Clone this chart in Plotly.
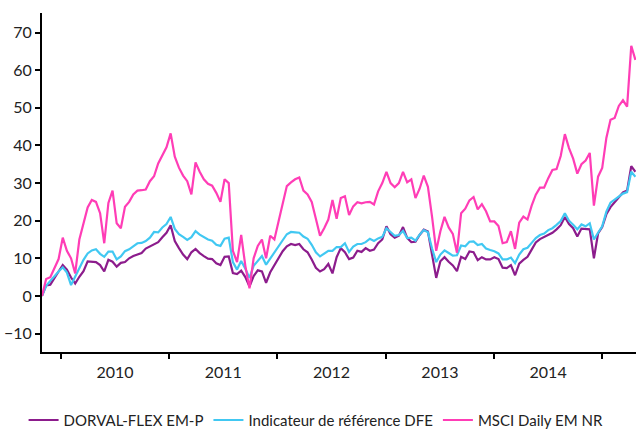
import pandas as pd
import plotly.graph_objects as go

# Bi-weekly observation dates (performance in %, base 0 at start)
dates = pd.date_range("2009-10-29", periods=144, freq="14D")

dorval = [
    0, 2.8, 3, 4.9, 6.5, 8.2, 7, 4.9, 3.3, 5.1,
    6.6, 9.2, 9, 9, 8.2, 6.5, 9.6, 9.1, 7.8, 8.8,
    9, 10, 10.6, 11, 11.4, 12.6, 13.2, 13.6, 14.3, 15.6,
    16.8, 18.8, 14.6, 12.7, 11, 9.8, 11.6, 12.5, 11.4, 10.6,
    9.9, 9.8, 8.7, 8.2, 10.4, 10.5, 6.1, 5.8, 6.7, 5,
    2.5, 5.3, 6.8, 6.5, 3.5, 6.3, 8.2, 9.9, 11.9, 13.2,
    13.8, 13.5, 13.8, 12.4, 11.6, 9.7, 7.5, 6.5, 7.1, 8.5,
    6, 10.3, 12.7, 11.6, 9.8, 10.2, 12, 11.7, 12.7, 12,
    12.3, 14, 15, 18.5, 16.4, 15.5, 16, 18.3, 15.4, 14.3,
    14.4, 16.2, 17.6, 17.1, 11.3, 4.8, 9.2, 10.3, 9.1, 8.1,
    6.6, 10.4, 9.8, 11.8, 11.6, 9.5, 10.3, 9.7, 9.7, 10.3,
    9.8, 7.5, 7.4, 8.2, 5.5, 8.6, 9.6, 10.4, 12.3, 14.2,
    15.1, 15.7, 16.3, 16.8, 17.7, 18.8, 21, 19.1, 18, 15.8,
    17.9, 17.7, 17.7, 10, 16.6, 18.3, 21.7, 23.6, 24.9, 25.9,
    27.5, 28, 34.5, 33,
]

indicateur = [
    0, 2.7, 4, 5.4, 6.5, 7.6, 6.2, 2.9, 5.2, 7.4,
    9.6, 11.3, 12.1, 12.4, 11.2, 10.4, 11.8, 11.8, 9.7, 10.5,
    11.9, 12.4, 13.3, 14, 14.1, 14.6, 15.5, 17, 16.9, 18.2,
    19.1, 21, 17.8, 16.4, 15.7, 14.9, 15.6, 17.2, 16.3, 15.6,
    15, 14.7, 13.6, 13.3, 15.2, 15.5, 9, 7, 9.3, 7.2,
    4.8, 8, 9.4, 10.6, 8.3, 10, 11.4, 13.1, 14.8, 16.4,
    17, 16.9, 16.8, 15.8, 15.2, 13.6, 11.6, 10.5, 11.3, 12,
    12, 13, 13, 14, 11.7, 13.1, 13.8, 13.8, 14.3, 15.2,
    14.6, 15.3, 15.7, 18, 17, 16, 16.2, 17.3, 15.4, 15.5,
    14.7, 16.3, 17.5, 16.9, 12.6, 9, 11, 12.1, 11.4, 10.7,
    10.8, 13.4, 13.2, 14.4, 14.5, 13.5, 13.8, 12.6, 12.2, 11.9,
    11.3, 9.7, 9.7, 10.2, 8.7, 11, 12.4, 12.8, 14.1, 15.4,
    16.2, 16.6, 17.5, 18, 18.9, 19.9, 22, 20, 18.9, 17.7,
    19, 18.5, 19.3, 15, 16.8, 18.5, 22.4, 24.8, 25.6, 26.3,
    27.2, 27.6, 33, 31.7,
]

msci = [
    0, 4.5, 5, 7.2, 9.8, 15.5, 12, 10, 6, 15,
    19.3, 23.5, 25.5, 25, 22, 14, 24.7, 28, 19.3, 18,
    23.7, 25, 27, 28, 28.1, 28.3, 30.5, 31.8, 35.2, 37.3,
    39.5, 43.2, 37, 34.1, 32, 30.5, 27, 35.5, 33, 31,
    29.8, 29.3, 27.4, 25, 31, 30, 12, 9, 16.2, 8,
    2, 10, 13.3, 15, 10, 16, 15, 19.8, 24.2, 29.2,
    30.2, 31, 31.5, 28, 27, 25, 20.5, 16, 18, 20.3,
    25.5, 20.5, 26, 26.5, 21.5, 23.8, 24.9, 24.6, 24.9, 25,
    24.3, 27.8, 30, 33, 30, 28.9, 30, 33, 30.2, 31,
    26, 28.5, 32, 29, 21, 12, 17.2, 21, 18.2, 16.5,
    11.5, 22, 23.2, 25.4, 26.3, 23, 24.4, 22.5, 19.8, 19.8,
    18.6, 14, 14.3, 17.2, 12.5, 19.5, 21.1, 20.3, 24, 26.9,
    28.8, 28.8, 31.3, 33.5, 33.7, 37.2, 43, 39.3, 36.5, 32.5,
    35, 36, 38, 24, 31.7, 34, 42, 46.8, 47.3, 50.5,
    52, 50.3, 66.5, 62.7,
]

series_names = ["DORVAL-FLEX EM-P", "Indicateur de référence DFE", "MSCI Daily EM NR"]
series_values = [dorval, indicateur, msci]
series_colors = ["#8C1C8C", "#41C8F2", "#FF3DB6"]

fig = go.Figure()
for name, vals, col in zip(series_names, series_values, series_colors):
    fig.add_trace(go.Scatter(
        x=dates, y=vals, name=name, mode="lines",
        line=dict(color=col, width=2.2),
    ))

font_family = "Lato, 'DejaVu Sans', sans-serif"
fig.update_layout(
    width=636, height=431,
    margin=dict(l=42, r=0, t=13, b=79, autoexpand=False),
    paper_bgcolor="white", plot_bgcolor="white",
    font=dict(family=font_family, size=16, color="#222222"),
    showlegend=True,
    legend=dict(
        orientation="h", xref="container", yref="container",
        x=0.497, xanchor="center", y=0.025, yanchor="middle",
        font=dict(size=15, color="#222222"), itemwidth=30,
        traceorder="normal", tracegroupgap=0,
    ),
)
fig.update_xaxes(
    type="date", range=["2009-10-29", "2015-04-25"], automargin=False,
    tick0="2010-01-01", dtick="M12", tickformat="%Y", ticklabelmode="period",
    showline=True, linecolor="black", linewidth=2,
    ticks="outside", ticklen=5, tickwidth=1.5, tickcolor="black",
    showgrid=False, zeroline=False,
    tickfont=dict(size=16),
)
fig.update_yaxes(
    range=[-14.9, 75.2], tick0=0, dtick=10, automargin=False,
    showline=True, linecolor="black", linewidth=2,
    ticks="outside", ticklen=5, tickwidth=1.5, tickcolor="black",
    showgrid=False, zeroline=False,
    tickfont=dict(size=16),
)

fig.write_html(
    "out.html",
    config={"displayModeBar": False},
    post_script="document.body.style.margin='0';document.body.style.padding='0';",
)
